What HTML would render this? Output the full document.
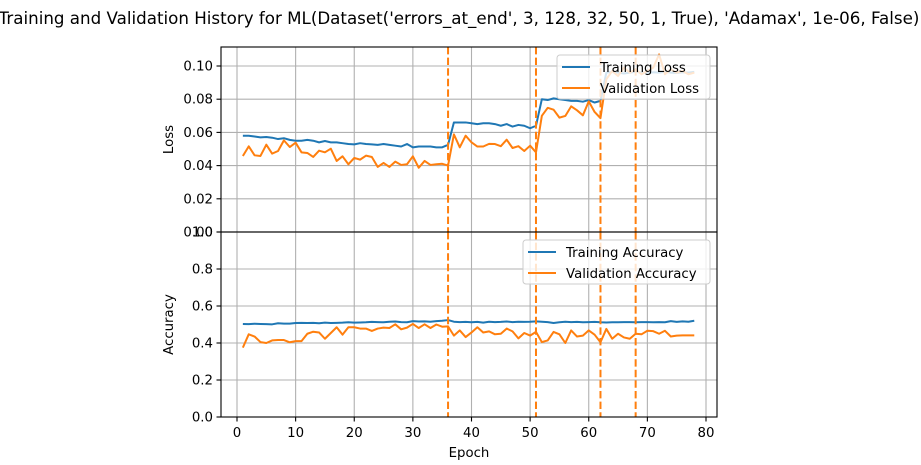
<!DOCTYPE html>
<html><head><meta charset="utf-8"><style>
body{margin:0;background:#fff;width:921px;height:460px;overflow:hidden}
svg{font-family:"DejaVu Sans","Liberation Sans",sans-serif}
</style></head><body>
<svg id="chart" width="921" height="460" xmlns="http://www.w3.org/2000/svg"></svg>
<script>
const epochs = Array.from({length:78},(_,i)=>i+1);
const trainLoss = [0.058,0.058,0.0575,0.057,0.0572,0.0568,0.056,0.0565,0.0555,0.055,0.055,0.0555,0.055,0.054,0.0548,0.054,0.054,0.0535,0.053,0.0528,0.0535,0.053,0.0528,0.0525,0.053,0.0525,0.052,0.0515,0.053,0.051,0.0515,0.0515,0.0515,0.051,0.051,0.0525,
0.066,0.066,0.066,0.0655,0.065,0.0655,0.0655,0.065,0.064,0.065,0.0635,0.0645,0.064,0.0625,0.064,
0.080,0.0795,0.0805,0.080,0.0795,0.079,0.079,0.0785,0.0795,0.078,0.079,
0.096,0.0965,0.096,0.0955,0.096,0.0965,0.096,0.0958,0.0962,0.096,0.0965,0.096,0.0958,0.0962,0.096,0.0965];
const valLoss = [0.0458,0.0516,0.0462,0.0458,0.0526,0.0472,0.0488,0.0552,0.0512,0.0538,0.048,0.0476,0.0452,0.049,0.048,0.0502,0.0428,0.0456,0.0408,0.0446,0.0436,0.046,0.0452,0.0392,0.0416,0.0392,0.0424,0.0404,0.0408,0.0456,0.0387,0.0428,0.0404,0.0408,0.0411,0.04,
0.0588,0.051,0.058,0.054,0.0515,0.0515,0.0531,0.053,0.0517,0.0556,0.0506,0.0517,0.0488,0.052,0.048,
0.070,0.0748,0.0737,0.0689,0.0699,0.0757,0.0733,0.0703,0.0787,0.0723,0.0686,
0.092,0.097,0.094,0.099,0.096,0.098,0.095,0.097,0.099,0.107,0.095,0.098,0.096,0.097,0.095,0.096];
const trainAcc = [0.503,0.502,0.504,0.503,0.502,0.501,0.507,0.505,0.505,0.508,0.509,0.508,0.509,0.507,0.51,0.508,0.509,0.51,0.512,0.51,0.511,0.512,0.514,0.513,0.512,0.515,0.516,0.513,0.512,0.518,0.516,0.517,0.515,0.518,0.52,0.524,
0.515,0.513,0.514,0.512,0.514,0.51,0.515,0.513,0.514,0.516,0.513,0.515,0.514,0.515,0.517,
0.515,0.513,0.508,0.512,0.515,0.513,0.514,0.512,0.513,0.514,0.512,
0.511,0.512,0.512,0.513,0.513,0.512,0.513,0.513,0.512,0.513,0.512,0.518,0.514,0.517,0.515,0.52];
const valAcc = [0.375,0.447,0.435,0.405,0.4,0.414,0.416,0.416,0.404,0.41,0.41,0.45,0.461,0.457,0.423,0.454,0.485,0.445,0.485,0.485,0.478,0.478,0.465,0.478,0.483,0.481,0.501,0.474,0.483,0.503,0.481,0.501,0.481,0.5,0.488,0.49,
0.44,0.468,0.432,0.457,0.485,0.457,0.463,0.447,0.45,0.478,0.463,0.425,0.454,0.44,0.46,
0.405,0.414,0.46,0.447,0.4,0.468,0.435,0.44,0.468,0.445,0.404,
0.476,0.423,0.45,0.43,0.423,0.45,0.447,0.466,0.464,0.45,0.466,0.435,0.44,0.441,0.441,0.441];
const vlines = [36,51,62,68];
const xTicks = [0,10,20,30,40,50,60,70,80];
const lossTicks = [0.00,0.02,0.04,0.06,0.08,0.10];
const accTicks = [0.0,0.2,0.4,0.6,0.8,1.0];

const NS="http://www.w3.org/2000/svg";
const svg=document.getElementById('chart');
function el(tag,attrs,parent){const e=document.createElementNS(NS,tag);for(const k in attrs)e.setAttribute(k,attrs[k]);(parent||svg).appendChild(e);return e;}
const L=221,R=717;
const xs=v=>237+(v)*5.8625;
const yLoss=v=>232-v*1660;
const yAcc=v=>417-v*185;
const blue="#1f77b4",orange="#ff7f0e";

function panel(top,bottom,yf,ticks,fmt,series,labels,ylabel,name,legBox){
  const g=el('g',{});
  
  
  xTicks.forEach(t=>{const l=el('line',{x1:xs(t),x2:xs(t),y1:top,y2:bottom,stroke:'#b0b0b0','stroke-width':1.1},g);
    });
  ticks.forEach(t=>{const y=yf(t);
    const l=el('line',{x1:L,x2:R,y1:y,y2:y,stroke:'#b0b0b0','stroke-width':1.1},g);
    
    el('line',{x1:L-4.5,x2:L,y1:y,y2:y,stroke:'#000','stroke-width':1.1},g);
    const tx=el('text',{x:L-8,y:y+4.5,'text-anchor':'end','font-size':13.3},g);tx.textContent=fmt(t);
    });
  const cp='c'+name; const c=el('clipPath',{id:cp},g); el('rect',{x:L,y:top,width:R-L,height:bottom-top},c);
  series.forEach((s,i)=>{
    const p=el('polyline',{points:epochs.map((e,j)=>xs(e)+','+yf(s[j])).join(' '),fill:'none',stroke:i?orange:blue,'stroke-width':2,'stroke-linejoin':'round','clip-path':'url(#'+cp+')'},g);
    });
  vlines.forEach(v=>{const l=el('line',{x1:xs(v),x2:xs(v),y1:top,y2:bottom,stroke:orange,'stroke-width':2,'stroke-dasharray':'7.4,3.2'},g);
    });
  el('rect',{x:L,y:top,width:R-L,height:bottom-top,fill:'none',stroke:'#000','stroke-width':1.1},g);
  const yl=el('text',{x:0,y:0,'font-size':13.3,'text-anchor':'middle',transform:`translate(${L-48},${(top+bottom)/2}) rotate(-90)`},g);yl.textContent=ylabel;
  
  const lg=el('g',{},g);
  el('rect',{x:legBox[0],y:top+8,width:R-7-legBox[0],height:44,fill:'#fff','fill-opacity':0.8,stroke:'#ccc',rx:3},lg);
  labels.forEach((t,i)=>{const y=top+20+i*21;
    el('line',{x1:legBox[0]+5,x2:legBox[0]+33,y1:y,y2:y,stroke:i?orange:blue,'stroke-width':2},lg);
    const tx=el('text',{x:legBox[0]+43,y:y+5,'font-size':13.3},lg);tx.textContent=t;
    });
}
panel(47,232,yLoss,lossTicks,t=>t.toFixed(2),[trainLoss,valLoss],['Training Loss','Validation Loss'],'Loss','loss-panel',[557]);
panel(232,417,yAcc,accTicks,t=>t.toFixed(1),[trainAcc,valAcc],['Training Accuracy','Validation Accuracy'],'Accuracy','accuracy-panel',[523]);
xTicks.forEach(t=>{el('line',{x1:xs(t),x2:xs(t),y1:417,y2:421.5,stroke:'#000','stroke-width':1.1});
  const tx=el('text',{x:xs(t),y:437,'text-anchor':'middle','font-size':13.3});tx.textContent=t;
  });
const xl=el('text',{x:469,y:457,'text-anchor':'middle','font-size':13.3});xl.textContent='Epoch';

const ti=el('text',{x:459,y:24,'text-anchor':'middle','font-size':16.7});ti.textContent="Training and Validation History for ML(Dataset('errors_at_end', 3, 128, 32, 50, 1, True), 'Adamax', 1e-06, False)";

</script>
</body></html>
